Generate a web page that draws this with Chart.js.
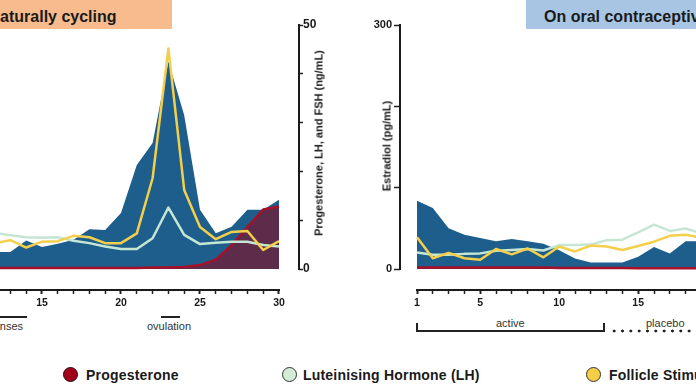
<!DOCTYPE html>
<html>
<head>
<meta charset="utf-8">
<script src="https://cdn.jsdelivr.net/npm/chart.js@4.4.0/dist/chart.umd.min.js"></script>
<style>
  html, body { margin:0; padding:0; width:696px; height:385px; overflow:hidden; background:#fff; }
  body { position:relative; font-family:"Liberation Sans", Arial, sans-serif; color:#222; }
  canvas { position:absolute; top:0; }
  .abs { position:absolute; white-space:nowrap; }
  .head { position:absolute; top:0; height:29px; }
  .head span { position:absolute; top:8px; font-size:16px; line-height:18px; font-weight:bold; color:#1a1a1a; white-space:nowrap; }
  .yt { position:absolute; transform:translate(-50%,-50%) rotate(-90deg); white-space:nowrap; font-size:11px; line-height:13px; font-weight:bold; color:#1a1a1a; }
  .note { position:absolute; font-size:11px; line-height:13px; color:#333; white-space:nowrap; }
  .bar { position:absolute; height:2px; background:#222; }
  .dot { position:absolute; top:367px; width:13px; height:13px; border-radius:50%; border:1.5px solid #333; }
  .leg { position:absolute; top:367px; font-size:14px; line-height:16px; font-weight:bold; letter-spacing:0.2px; color:#1a1a1a; white-space:nowrap; }
</style>
</head>
<body>

<div class="head" style="left:-40px; width:212px; background:#f7bb8e;"><span style="left:28.5px">Naturally cycling</span></div>
<div class="head" style="left:526px; width:300px; background:#a8c6e4;"><span style="left:18px">On oral contraceptives</span></div>

<canvas id="natChart" width="370" height="315" style="left:-40px"></canvas>
<canvas id="ocChart" width="560" height="315" style="left:340px"></canvas>

<div class="yt" style="left:318.5px; top:142.5px">Progesterone, LH, and FSH (ng/mL)</div>
<div class="yt" style="left:386.5px; top:146px">Estradiol (pg/mL)</div>

<!-- cycle notes under the x axes -->
<div class="bar" style="left:-20px; top:316px; width:47px"></div>
<div class="note" style="left:-15.5px; top:320px">menses</div>
<div class="bar" style="left:161px; top:316px; width:19px"></div>
<div class="note" style="left:147px; top:320px">ovulation</div>

<div class="abs" style="left:416px; top:323px; width:185px; height:7px; border:2px solid #222; border-top:none;"></div>
<div class="note" style="left:496px; top:317px">active</div>
<div class="abs" style="left:610px; top:329px; width:100px; height:4px; background:radial-gradient(circle, #222 1.3px, transparent 1.7px) 0 0 / 8.33px 4px repeat-x;"></div>
<div class="note" style="left:646px; top:317px">placebo</div>

<!-- legend -->
<div class="dot" style="left:63px; background:#a3001c; border-color:#2a0a0a;"></div>
<div class="leg" style="left:86px">Progesterone</div>
<div class="dot" style="left:282px; background:#d3ecd6;"></div>
<div class="leg" style="left:303px">Luteinising Hormone (LH)</div>
<div class="dot" style="left:586px; background:#f6cd47;"></div>
<div class="leg" style="left:609px">Follicle Stimulating Hormone (FSH)</div>

<script>
// naturally cycling, cycle days (days before 12 are cropped out of the picture)
const natDays = [12,13,14,15,16,17,18,19,20,21,22,23,24,25,26,27,28,29,30];
const natE2  = [21,21,35,27,31,36,49,48,69,128,155,255,189,73,44,52,73,73,85];       // pg/mL
const natFSH = [5.3,5.9,4.4,5.6,5.7,6.8,6.5,5.3,5.3,7.3,18.6,45.2,16.2,8.6,6.1,7.6,7.8,3.9,5.7]; // ng/mL
const natLH  = [7.4,6.9,6.5,6.4,6.5,5.8,5.3,4.6,4.1,4.1,6.3,12.6,7.0,5.1,5.4,5.6,5.6,4.9,4.6];
const natP4  = [0.2,0.2,0.2,0.2,0.2,0.2,0.2,0.2,0.2,0.2,0.3,0.3,0.4,0.8,1.9,4.9,8.6,12.2,12.8];

// oral contraceptive, pill days (what fits in the frame)
const ocDays = [1,2,3,4,5,6,7,8,9,10,11,12,13,14,15,16,17,18,19];
const ocE2  = [84,75,50,42,38,34,37,34,31,23,13,8,8,8,15,27,19,34,34];
const ocFSH = [6.5,2.2,3.3,2.2,1.9,4.1,3.0,4.2,2.4,4.6,3.6,4.8,4.6,3.9,4.7,5.6,6.8,7.0,6.4];
const ocLH  = [3.4,2.9,2.9,3.1,3.2,3.75,3.9,4.1,3.8,4.9,4.9,5.0,5.9,6.0,7.5,9.1,7.8,8.3,7.3];
const ocP4  = [0.3,0.3,0.3,0.3,0.3,0.3,0.3,0.3,0.3,0.2,0.2,0.2,0.2,0.2,0.15,0.15,0.15,0.15,0.15];

const natTicks = [12,13,14,15,16,17,18,19,20,21,22,23,24,25,26,27,28,29,30];
const ocTicks = [1,2,3,4,5,6,7,8,9,10,11,12,13,14,15,16,17,18,19,20,21,22,23,24,25,26,27,28];
const hormoneTicks = [0,10,20,30,40,50];
const e2Ticks = [0,100,200,300];

const e2Color = '#1e5e8c';
const fshColor = '#f3cf4b';
const lhColor = '#c6e6d4';
const p4Line = '#a5102a';
const p4Fill = 'rgba(133,11,30,0.6)';
const tickFont = { family:"'Liberation Sans', Arial, sans-serif", weight:'bold', size:11 };

const pts = (xs, ys) => xs.map((x, i) => ({ x: x, y: ys[i] }));

// axis lines that stop at the data range (the figure's axes are detached from each other)
const axisLines = {
  id: 'axisLines',
  afterDraw(chart, args, opts) {
    const ctx = chart.ctx, area = chart.chartArea;
    const xs = chart.scales.x, ys = chart.scales[opts.yAxis];
    const yx = opts.side === 'right' ? area.right : area.left;
    ctx.save();
    ctx.strokeStyle = '#1a1a1a';
    ctx.lineWidth = 2;
    ctx.beginPath();
    ctx.moveTo(xs.getPixelForValue(opts.xFrom) - 1, area.bottom + 1);
    ctx.lineTo(xs.getPixelForValue(opts.xTo) + 1, area.bottom + 1);
    ctx.moveTo(yx, ys.getPixelForValue(0) + 1);
    ctx.lineTo(yx, ys.getPixelForValue(ys.max) - 1);
    ctx.stroke();
    ctx.restore();
  }
};

const datasetsFor = (days, fsh, lh, p4, e2) => [
  { label:'FSH', data: pts(days, fsh), yAxisID:'yH', borderColor: fshColor, borderWidth: 2.5, borderJoinStyle: 'round', pointRadius: 0, fill: false },
  { label:'LH', data: pts(days, lh), yAxisID:'yH', borderColor: lhColor, borderWidth: 2.5, borderJoinStyle: 'round', pointRadius: 0, fill: false },
  { label:'Progesterone', data: pts(days, p4), yAxisID:'yH', borderColor: p4Line, borderWidth: 2.5, borderJoinStyle: 'round', pointRadius: 0, fill: 'origin', backgroundColor: p4Fill },
  { label:'Estradiol', data: pts(days, e2), yAxisID:'yE', borderWidth: 0, borderColor: e2Color, pointRadius: 0, fill: 'origin', backgroundColor: e2Color }
];

const xAxis = (min, max, tickVals, labelled) => ({
  type: 'linear', min: min, max: max,
  afterBuildTicks: s => { s.ticks = tickVals.map(v => ({ value: v })); },
  afterFit: s => { s.height = 26; },
  border: { display: false },
  grid: { drawOnChartArea: false, tickLength: 5, tickColor: '#222',
          tickWidth: c => labelled(c.tick.value) ? 2 : 1.5 },
  ticks: { autoSkip: false, maxRotation: 0, padding: 3, color: '#1a1a1a',
           font: { family: tickFont.family, weight: 'bold', size: 10.5 },
           callback: v => labelled(v) ? v : '' }
});

const natChart = new Chart(document.getElementById('natChart'), {
  type: 'line',
  data: { datasets: datasetsFor(natDays, natFSH, natLH, natP4, natE2) },
  options: {
    responsive: false, animation: false,
    layout: { padding: { left: 26.7, top: 25, right: 0, bottom: 0 } },
    plugins: { legend: { display: false }, tooltip: { enabled: false },
               axisLines: { yAxis: 'yH', side: 'right', xFrom: 11.5, xTo: 30 } },
    scales: {
      x: xAxis(11.5, 31.266, natTicks, v => v % 5 === 0),
      yH: {
        position: 'right', min: -4.098, max: 50,
        afterBuildTicks: s => { s.ticks = hormoneTicks.map(v => ({ value: v })); },
        afterFit: s => { s.width = 31; },
        border: { display: false },
        grid: { drawOnChartArea: false, tickLength: 4, tickColor: '#222', tickWidth: 1.5 },
        ticks: { padding: 0, color: '#1a1a1a', font: { family: tickFont.family, weight: 'bold', size: 12 },
                 callback: v => (v === 0 || v === 50) ? v : '' }
      },
      yE: { display: false, position: 'left', min: -24.59, max: 300 }
    }
  },
  plugins: [axisLines]
});

const ocChart = new Chart(document.getElementById('ocChart'), {
  type: 'line',
  data: { datasets: datasetsFor(ocDays, ocFSH, ocLH, ocP4, ocE2) },
  options: {
    responsive: false, animation: false,
    layout: { padding: { left: 0, top: 25, right: 48.5, bottom: 0 } },
    plugins: { legend: { display: false }, tooltip: { enabled: false },
               axisLines: { yAxis: 'yE', side: 'left', xFrom: 1, xTo: 28 } },
    scales: {
      x: xAxis(-0.076, 28.5, ocTicks, v => v === 1 || v % 5 === 0),
      yE: {
        position: 'left', min: -24.59, max: 300,
        afterBuildTicks: s => { s.ticks = e2Ticks.map(v => ({ value: v })); },
        afterFit: s => { s.width = 60; },
        border: { display: false },
        grid: { drawOnChartArea: false, tickLength: 6, tickColor: '#222', tickWidth: 1.5 },
        ticks: { padding: 2, color: '#1a1a1a', font: tickFont, callback: v => (v === 0 || v === 300) ? v : '' }
      },
      yH: { display: false, position: 'right', min: -4.098, max: 50 }
    }
  },
  plugins: [axisLines]
});
</script>
</body>
</html>
